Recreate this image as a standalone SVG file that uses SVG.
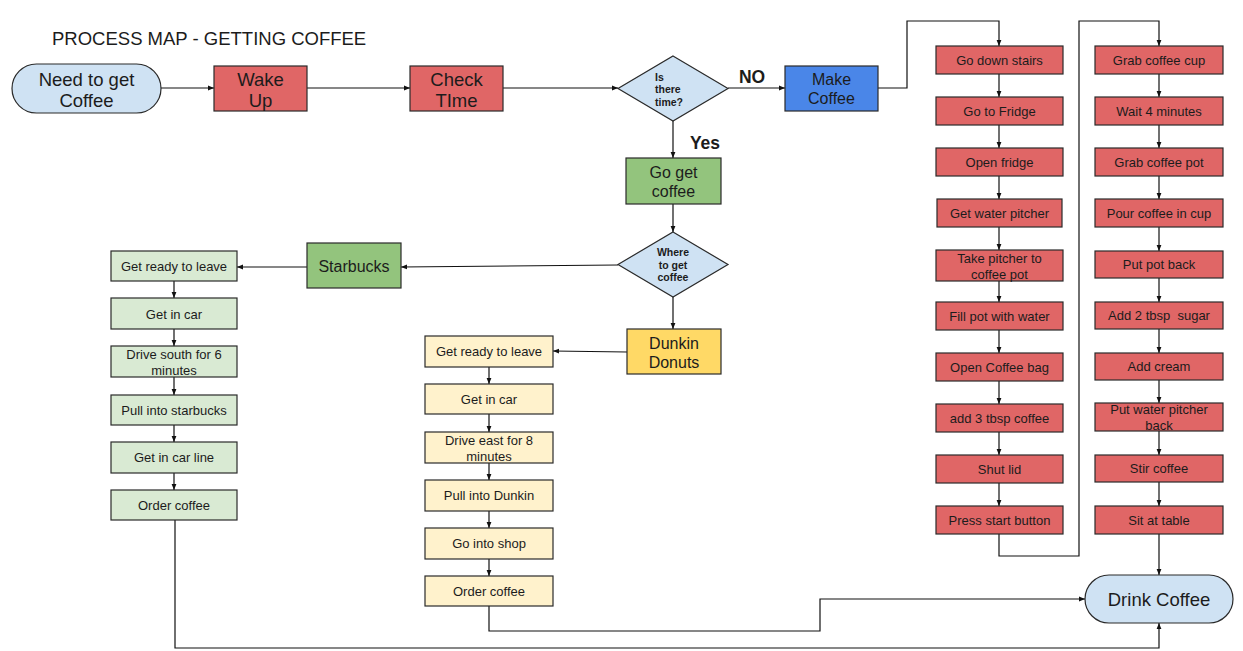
<svg xmlns="http://www.w3.org/2000/svg" width="1243" height="651" viewBox="0 0 1243 651">
<style>
text{font-family:"Liberation Sans",Arial,sans-serif;fill:#1c1c1c;text-anchor:middle;dominant-baseline:central}
.s{font-size:13px}
.l{font-size:18.5px}
.m{font-size:16px}
.d{font-size:10.5px;font-weight:bold}
.b{font-weight:bold}
.box{stroke:#2a2a2a;stroke-width:1.2}
.red{fill:#e06666}
.lb{fill:#cfe2f3}
.gr{fill:#93c47d}
.yl{fill:#ffd966}
.lg{fill:#d9ead3}
.ly{fill:#fff2cc}
.bl{fill:#4a86e8}
#conn path{fill:none;stroke:#111;stroke-width:1.2;marker-end:url(#a)}
</style>
<defs>
<marker id="a" viewBox="0 0 6 6" refX="6" refY="3" markerWidth="6" markerHeight="6" orient="auto" markerUnits="userSpaceOnUse"><path d="M0,0.6 L6,3 L0,5.4z" fill="#111"/></marker>
</defs>
<rect width="1243" height="651" fill="#fff"/>
<text x="52" y="38" style="text-anchor:start;font-size:18.5px">PROCESS MAP - GETTING COFFEE</text>
<g id="conn">
<path d="M161,88H214"/>
<path d="M307,88H410"/>
<path d="M503,88H618"/>
<path d="M728,88H785"/>
<path d="M673,121V158"/>
<path d="M878,88H907V21H999V46"/>
<path d="M673,204V232"/>
<path d="M618,265L401,267"/>
<path d="M673,297V329"/>
<path d="M307,267H237"/>
<path d="M627,352L553,351"/>
<path d="M174,281V298"/>
<path d="M174,329V346"/>
<path d="M174,377V395"/>
<path d="M174,425V442"/>
<path d="M174,473V490"/>
<path d="M489,367V384"/>
<path d="M489,414V432"/>
<path d="M489,463V480"/>
<path d="M489,511V528"/>
<path d="M489,559V576"/>
<path d="M999,74V97"/>
<path d="M999,125V148"/>
<path d="M999,176V199"/>
<path d="M999,227V250"/>
<path d="M999,281V302"/>
<path d="M999,330V353"/>
<path d="M999,381V404"/>
<path d="M999,432V455"/>
<path d="M999,483V506"/>
<path d="M1159,74V97"/>
<path d="M1159,125V148"/>
<path d="M1159,176V199"/>
<path d="M1159,227V251"/>
<path d="M1159,278V302"/>
<path d="M1159,329V353"/>
<path d="M1159,380V403"/>
<path d="M1159,431V455"/>
<path d="M1159,482V506"/>
<path d="M999,534V556H1079V21H1159V46"/>
<path d="M1159,534V575"/>
<path d="M489,606V631H820V599H1085"/>
<path d="M175,520V648H1159V623"/>
</g>
<g id="n-start"><rect class="box lb" x="12" y="64" width="149" height="49" rx="24.5"/><text class="l" x="86.5" y="79">Need to get</text><text class="l" x="86.5" y="100">Coffee</text></g>
<g id="n-wake"><rect class="box red" x="214" y="66" width="93" height="45"/><text class="l" x="260.5" y="79">Wake</text><text class="l" x="260.5" y="100">Up</text></g>
<g id="n-check"><rect class="box red" x="410" y="66" width="93" height="45"/><text class="l" x="456.5" y="79">Check</text><text class="l" x="456.5" y="100">TIme</text></g>
<g id="n-time"><polygon class="box lb" points="673,56 728,88.5 673,121 618,88.5"/><text class="d" x="655" y="77" style="text-anchor:start">Is</text><text class="d" x="655" y="89" style="text-anchor:start">there</text><text class="d" x="655" y="102" style="text-anchor:start">time?</text></g>
<text class="b" x="752" y="77" style="font-size:17.5px">NO</text>
<text class="b" x="705" y="143" style="font-size:17.5px">Yes</text>
<g id="n-make"><rect class="box bl" x="785" y="66" width="93" height="45"/><text class="m" x="831.5" y="79">Make</text><text class="m" x="831.5" y="98">Coffee</text></g>
<g id="n-goget"><rect class="box gr" x="626" y="158" width="95" height="46"/><text class="m" x="673.5" y="172">Go get</text><text class="m" x="673.5" y="191">coffee</text></g>
<g id="n-where"><polygon class="box lb" points="673,232 728,264.5 673,297 618,264.5"/><text class="d" x="673" y="252">Where</text><text class="d" x="673" y="265">to get</text><text class="d" x="673" y="277">coffee</text></g>
<g id="n-starbucks"><rect class="box gr" x="307" y="243" width="94" height="45"/><text class="m" x="354" y="266">Starbucks</text></g>
<g id="n-dunkin"><rect class="box yl" x="627" y="329" width="94" height="45"/><text class="m" x="674" y="343">Dunkin</text><text class="m" x="674" y="362">Donuts</text></g>
<g id="n-sb1"><rect class="box lg" x="111" y="251" width="126" height="30"/><text class="s" x="174" y="266">Get ready to leave</text></g>
<g id="n-sb2"><rect class="box lg" x="111" y="298" width="126" height="31"/><text class="s" x="174" y="314">Get in car</text></g>
<g id="n-sb3"><rect class="box lg" x="111" y="346" width="126" height="31"/><text class="s" x="174" y="354">Drive south for 6</text><text class="s" x="174" y="370">minutes</text></g>
<g id="n-sb4"><rect class="box lg" x="111" y="395" width="126" height="30"/><text class="s" x="174" y="410">Pull into starbucks</text></g>
<g id="n-sb5"><rect class="box lg" x="111" y="442" width="126" height="31"/><text class="s" x="174" y="457.5">Get in car line</text></g>
<g id="n-sb6"><rect class="box lg" x="111" y="490" width="126" height="30"/><text class="s" x="174" y="505">Order coffee</text></g>
<g id="n-dd1"><rect class="box ly" x="425" y="336" width="128" height="31"/><text class="s" x="489" y="351.5">Get ready to leave</text></g>
<g id="n-dd2"><rect class="box ly" x="425" y="384" width="128" height="30"/><text class="s" x="489" y="399">Get in car</text></g>
<g id="n-dd3"><rect class="box ly" x="425" y="432" width="128" height="31"/><text class="s" x="489" y="440">Drive east for 8</text><text class="s" x="489" y="456">minutes</text></g>
<g id="n-dd4"><rect class="box ly" x="425" y="480" width="128" height="31"/><text class="s" x="489" y="495.5">Pull into Dunkin</text></g>
<g id="n-dd5"><rect class="box ly" x="425" y="528" width="128" height="31"/><text class="s" x="489" y="543.5">Go into shop</text></g>
<g id="n-dd6"><rect class="box ly" x="425" y="576" width="128" height="30"/><text class="s" x="489" y="591">Order coffee</text></g>
<g id="n-r1"><rect class="box red" x="936" y="46" width="127" height="28"/><text class="s" x="999.5" y="60">Go down stairs</text></g>
<g id="n-r2"><rect class="box red" x="936" y="97" width="127" height="28"/><text class="s" x="999.5" y="111">Go to Fridge</text></g>
<g id="n-r3"><rect class="box red" x="936" y="148" width="127" height="28"/><text class="s" x="999.5" y="162">Open fridge</text></g>
<g id="n-r4"><rect class="box red" x="937" y="199" width="125" height="28"/><text class="s" x="999.5" y="213">Get water pitcher</text></g>
<g id="n-r5"><rect class="box red" x="936" y="250" width="127" height="31"/><text class="s" x="999.5" y="258">Take pitcher to</text><text class="s" x="999.5" y="274">coffee pot</text></g>
<g id="n-r6"><rect class="box red" x="936" y="302" width="127" height="28"/><text class="s" x="999.5" y="316">Fill pot with water</text></g>
<g id="n-r7"><rect class="box red" x="936" y="353" width="127" height="28"/><text class="s" x="999.5" y="367">Open Coffee bag</text></g>
<g id="n-r8"><rect class="box red" x="936" y="404" width="127" height="28"/><text class="s" x="999.5" y="418">add 3 tbsp coffee</text></g>
<g id="n-r9"><rect class="box red" x="936" y="455" width="127" height="28"/><text class="s" x="999.5" y="469">Shut lid</text></g>
<g id="n-r10"><rect class="box red" x="936" y="506" width="127" height="28"/><text class="s" x="999.5" y="520">Press start button</text></g>
<g id="n-c1"><rect class="box red" x="1095" y="46" width="128" height="28"/><text class="s" x="1159" y="60">Grab coffee cup</text></g>
<g id="n-c2"><rect class="box red" x="1095" y="97" width="128" height="28"/><text class="s" x="1159" y="111">Wait 4 minutes</text></g>
<g id="n-c3"><rect class="box red" x="1095" y="148" width="128" height="28"/><text class="s" x="1159" y="162">Grab coffee pot</text></g>
<g id="n-c4"><rect class="box red" x="1095" y="199" width="128" height="28"/><text class="s" x="1159" y="213">Pour coffee in cup</text></g>
<g id="n-c5"><rect class="box red" x="1095" y="251" width="128" height="27"/><text class="s" x="1159" y="264.5">Put pot back</text></g>
<g id="n-c6"><rect class="box red" x="1095" y="302" width="128" height="27"/><text class="s" x="1159" y="315.5" style="white-space:pre">Add 2 tbsp  sugar</text></g>
<g id="n-c7"><rect class="box red" x="1095" y="353" width="128" height="27"/><text class="s" x="1159" y="366.5">Add cream</text></g>
<g id="n-c8"><rect class="box red" x="1095" y="403" width="128" height="28"/><text class="s" x="1159" y="409.5">Put water pitcher</text><text class="s" x="1159" y="425.5">back</text></g>
<g id="n-c9"><rect class="box red" x="1095" y="455" width="128" height="27"/><text class="s" x="1159" y="468.5">Stir coffee</text></g>
<g id="n-c10"><rect class="box red" x="1095" y="506" width="128" height="28"/><text class="s" x="1159" y="520">Sit at table</text></g>
<g id="n-drink"><rect class="box lb" x="1085" y="575" width="148" height="48" rx="24"/><text class="l" x="1159" y="599.5">Drink Coffee</text></g>
</svg>
